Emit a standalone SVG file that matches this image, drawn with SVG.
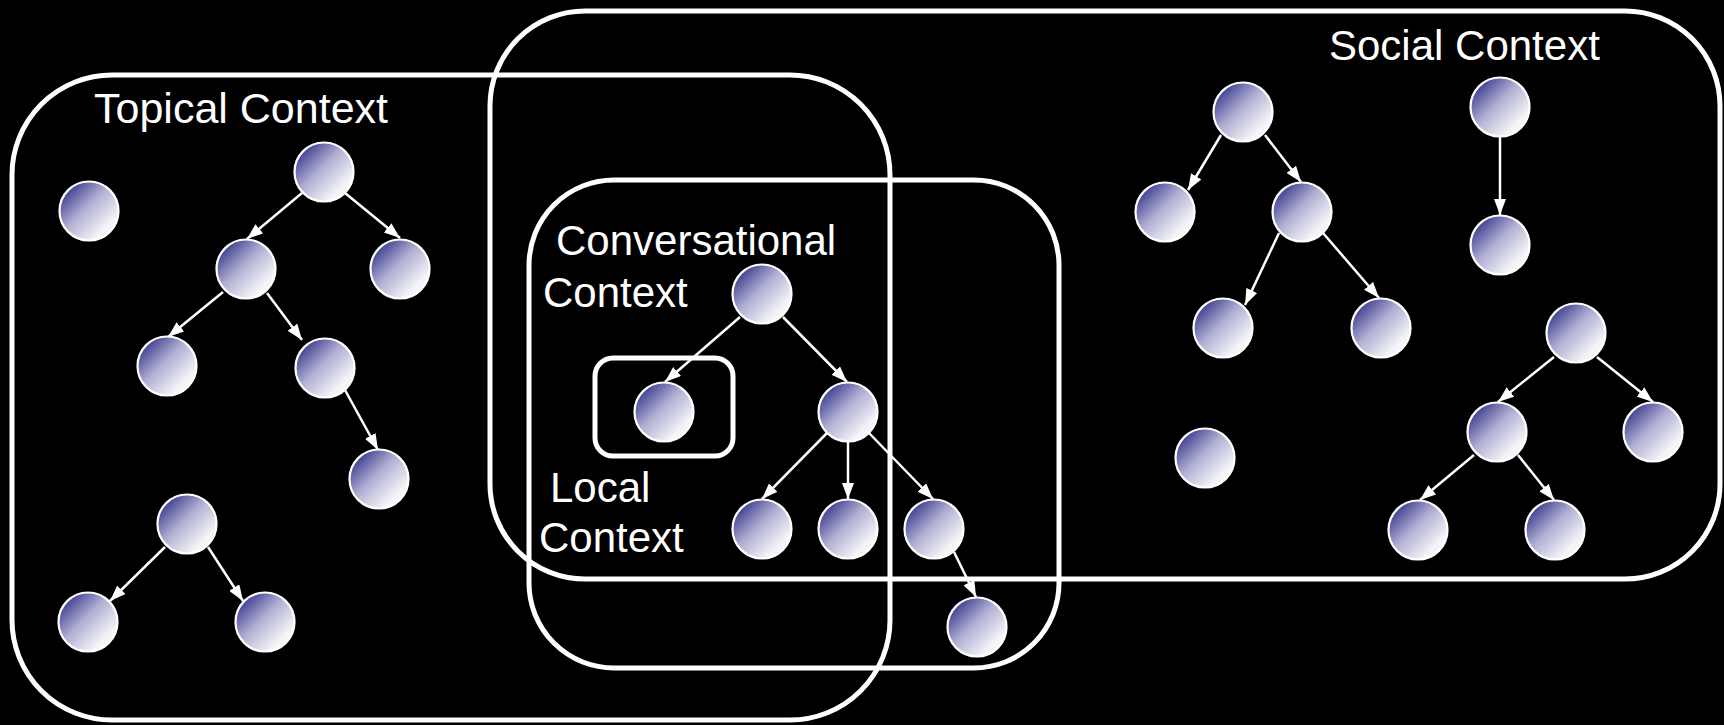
<svg xmlns="http://www.w3.org/2000/svg" width="1724" height="725" viewBox="0 0 1724 725">
<style>
.box{fill:none;stroke:#fff;stroke-width:5}
.lbl{fill:#fff;font-family:"Liberation Sans",Arial,sans-serif;font-size:42px}
.n{fill:url(#g);stroke:#fff;stroke-width:2.2}
.e{stroke:#fff;stroke-width:2.5;fill:none;marker-end:url(#ah)}
</style>
<defs>
<linearGradient id="g" x1="0.12" y1="0.12" x2="0.85" y2="0.85">
<stop offset="0" stop-color="#3a3a8e"/>
<stop offset="0.45" stop-color="#b0afd3"/>
<stop offset="0.9" stop-color="#f3f3f8"/>
<stop offset="1" stop-color="#f6f6fa"/>
</linearGradient>
<marker id="ah" markerUnits="userSpaceOnUse" markerWidth="16" markerHeight="12" refX="16" refY="6" orient="auto">
<path d="M0,0 L16,6 L0,12 z" fill="#fff"/>
</marker>
</defs>
<rect width="1724" height="725" fill="#000"/>
<g id="topical-context">
<rect class="box" x="12" y="75" width="878" height="645" rx="100" ry="100"/>
<text class="lbl" x="94" y="123" style="font-size:43px">Topical Context</text>
</g>
<g id="social-context">
<rect class="box" x="490" y="11" width="1230" height="568" rx="95" ry="95"/>
<text class="lbl" x="1329" y="60">Social Context</text>
</g>
<g id="conversational-context">
<rect class="box" x="529" y="180" width="530" height="488" rx="85" ry="85"/>
<text class="lbl" x="556" y="255">Conversational</text>
<text class="lbl" x="543" y="307">Context</text>
</g>
<g id="local-context">
<rect class="box" x="595" y="358" width="138" height="98" rx="18" ry="18"/>
<text class="lbl" x="550" y="502">Local</text>
<text class="lbl" x="539" y="552">Context</text>
</g>
<g id="connectors">
<line class="e" x1="302" y1="193" x2="247" y2="239"/>
<line class="e" x1="345" y1="193" x2="400" y2="238"/>
<line class="e" x1="223" y1="292" x2="168" y2="337"/>
<line class="e" x1="267" y1="293" x2="302" y2="340"/>
<line class="e" x1="345" y1="390" x2="378" y2="450"/>
<line class="e" x1="165" y1="547" x2="110" y2="601"/>
<line class="e" x1="208" y1="547" x2="243" y2="601"/>
<line class="e" x1="740" y1="317" x2="665" y2="382"/>
<line class="e" x1="783" y1="317" x2="847" y2="382"/>
<line class="e" x1="827" y1="433" x2="762" y2="499"/>
<line class="e" x1="848" y1="442" x2="848" y2="499"/>
<line class="e" x1="869" y1="433" x2="933" y2="499"/>
<line class="e" x1="954" y1="552" x2="976" y2="597"/>
<line class="e" x1="1221" y1="135" x2="1188" y2="190"/>
<line class="e" x1="1265" y1="135" x2="1301" y2="182"/>
<line class="e" x1="1279" y1="233" x2="1245" y2="305"/>
<line class="e" x1="1323" y1="233" x2="1379" y2="298"/>
<line class="e" x1="1500" y1="137" x2="1500" y2="215"/>
<line class="e" x1="1554" y1="357" x2="1498" y2="402"/>
<line class="e" x1="1597" y1="357" x2="1653" y2="402"/>
<line class="e" x1="1474" y1="455" x2="1420" y2="500"/>
<line class="e" x1="1518" y1="455" x2="1554" y2="500"/>
</g>
<g id="node-t0"><circle class="n" cx="89" cy="211" r="29.5"/></g>
<g id="node-t1"><circle class="n" cx="324" cy="172" r="29.5"/></g>
<g id="node-t2"><circle class="n" cx="246" cy="269" r="29.5"/></g>
<g id="node-t3"><circle class="n" cx="400" cy="269" r="29.5"/></g>
<g id="node-t4"><circle class="n" cx="167" cy="366" r="29.5"/></g>
<g id="node-t5"><circle class="n" cx="325" cy="368" r="29.5"/></g>
<g id="node-t6"><circle class="n" cx="379" cy="479" r="29.5"/></g>
<g id="node-t7"><circle class="n" cx="187" cy="524" r="29.5"/></g>
<g id="node-t8"><circle class="n" cx="88" cy="622" r="29.5"/></g>
<g id="node-t9"><circle class="n" cx="265" cy="622" r="29.5"/></g>
<g id="node-c0"><circle class="n" cx="762" cy="294" r="29.5"/></g>
<g id="node-c1"><circle class="n" cx="664" cy="412" r="29.5"/></g>
<g id="node-c2"><circle class="n" cx="848" cy="412" r="29.5"/></g>
<g id="node-c3"><circle class="n" cx="762" cy="529" r="29.5"/></g>
<g id="node-c4"><circle class="n" cx="848" cy="529" r="29.5"/></g>
<g id="node-c5"><circle class="n" cx="934" cy="529" r="29.5"/></g>
<g id="node-c6"><circle class="n" cx="977" cy="627" r="29.5"/></g>
<g id="node-s1"><circle class="n" cx="1243" cy="112" r="29.5"/></g>
<g id="node-s2"><circle class="n" cx="1165" cy="212" r="29.5"/></g>
<g id="node-s3"><circle class="n" cx="1302" cy="212" r="29.5"/></g>
<g id="node-s4"><circle class="n" cx="1223" cy="328" r="29.5"/></g>
<g id="node-s5"><circle class="n" cx="1381" cy="328" r="29.5"/></g>
<g id="node-s6"><circle class="n" cx="1500" cy="107" r="29.5"/></g>
<g id="node-s7"><circle class="n" cx="1500" cy="245" r="29.5"/></g>
<g id="node-s8"><circle class="n" cx="1576" cy="333" r="29.5"/></g>
<g id="node-s9"><circle class="n" cx="1497" cy="432" r="29.5"/></g>
<g id="node-s10"><circle class="n" cx="1653" cy="432" r="29.5"/></g>
<g id="node-s11"><circle class="n" cx="1418" cy="530" r="29.5"/></g>
<g id="node-s12"><circle class="n" cx="1555" cy="530" r="29.5"/></g>
<g id="node-s13"><circle class="n" cx="1205" cy="458" r="29.5"/></g>
</svg>
